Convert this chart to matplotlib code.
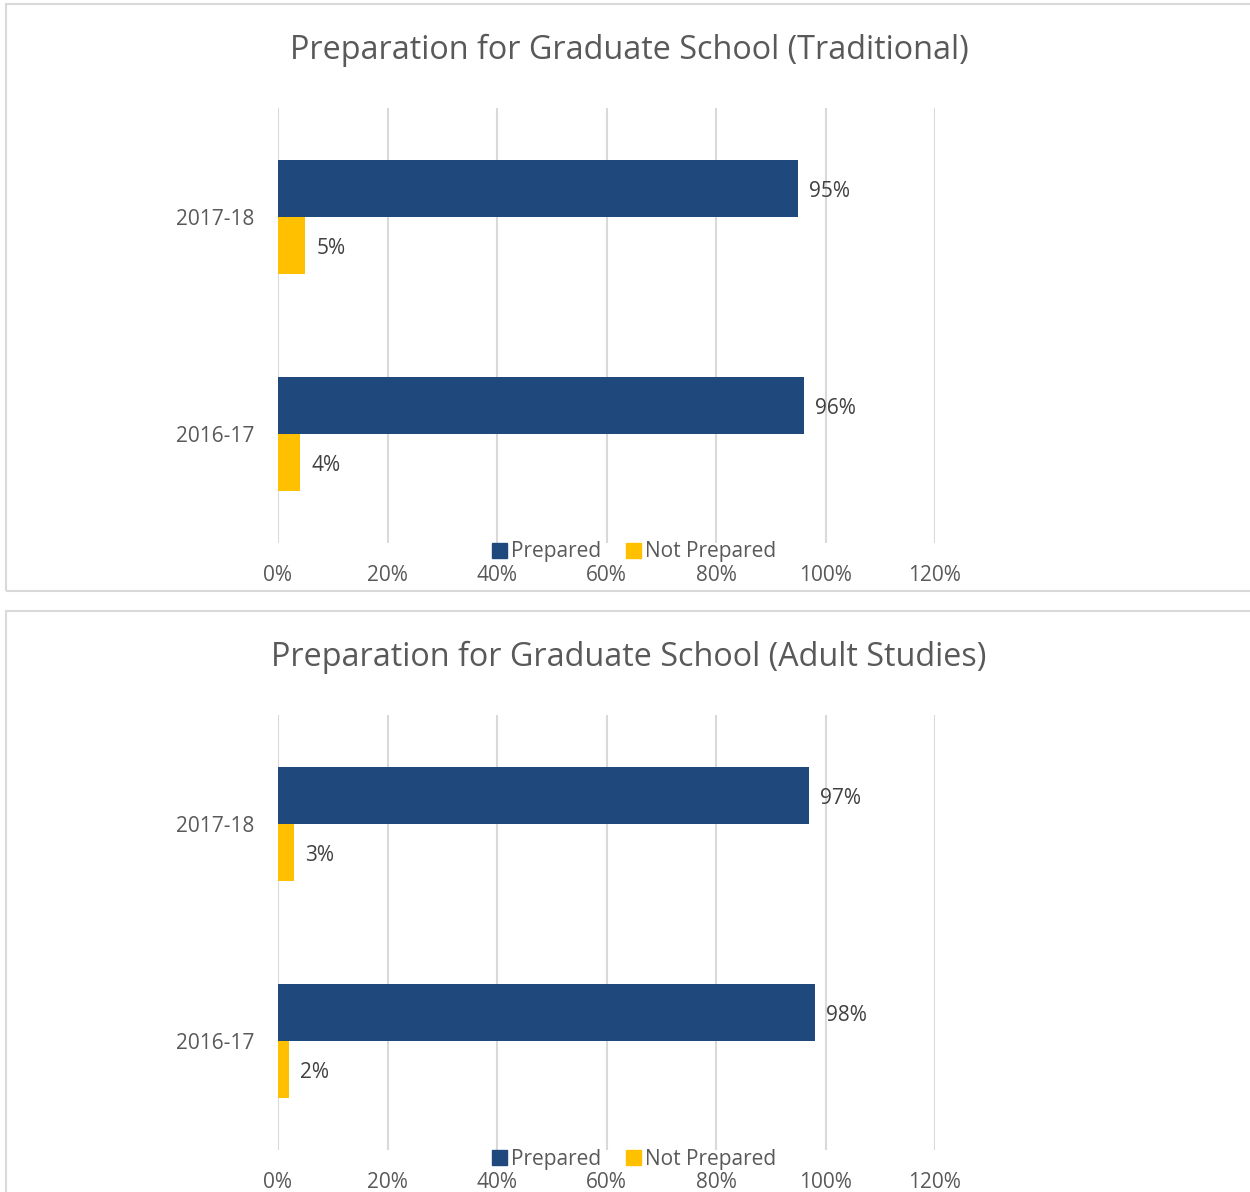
"""Horizontal grouped bars: preparation for graduate school, two programs."""

import matplotlib

matplotlib.use("Agg")

import matplotlib.pyplot as plt  # noqa: E402
from matplotlib.patches import Patch, Rectangle  # noqa: E402

plt.rcParams["font.family"] = ["Open Sans", "DejaVu Sans"]

YEARS = ["2016-17", "2017-18"]
SERIES = ["Prepared", "Not Prepared"]

TRAD_PREPARED = [0.96, 0.95]
TRAD_NOT_PREPARED = [0.04, 0.05]
ADULT_PREPARED = [0.98, 0.97]
ADULT_NOT_PREPARED = [0.02, 0.03]

TITLES = [
    "Preparation for Graduate School (Traditional)",
    "Preparation for Graduate School (Adult Studies)",
]

NAVY = "#1F497D"
GOLD = "#FFC000"
TEXT = "#595959"
LABEL = "#404040"
GRID = "#D9D9D9"

W, H = 1250, 1192


def fx(px):
    return px / W


def fy(py):
    return 1 - py / H


def panel(fig, top_px, prepared, not_prepared, title):
    """Draw one chart panel; top_px is the top edge of its frame."""
    ax_top = top_px + 104
    ax_bot = top_px + 539
    ax = fig.add_axes([fx(278), fy(ax_bot), fx(935) - fx(278), fy(ax_top) - fy(ax_bot)])

    h = 0.262
    ys = list(range(len(YEARS)))
    ax.barh([y + h / 2 for y in ys], prepared, height=h, color=NAVY, label=SERIES[0])
    ax.barh([y - h / 2 for y in ys], not_prepared, height=h, color=GOLD, label=SERIES[1])

    for y, v in zip(ys, prepared):
        ax.annotate(f"{v:.0%}", (v, y + h / 2), xytext=(8, -2), textcoords="offset points",
                    va="center", ha="left", fontsize=15, color=LABEL)
    for y, v in zip(ys, not_prepared):
        ax.annotate(f"{v:.0%}", (v, y - h / 2), xytext=(8, -2), textcoords="offset points",
                    va="center", ha="left", fontsize=15, color=LABEL)

    ax.set_xlim(0, 1.2)
    ax.set_ylim(-0.5, 1.5)
    ax.set_xticks([0, 0.2, 0.4, 0.6, 0.8, 1.0, 1.2])
    ax.set_xticklabels([f"{t}%" for t in range(0, 121, 20)])
    ax.set_yticks(ys)
    ax.set_yticklabels(YEARS)
    ax.tick_params(axis="x", length=0, pad=16, labelsize=15, colors=TEXT)
    ax.tick_params(axis="y", length=0, pad=17, labelsize=15, colors=TEXT)
    for s in ax.spines.values():
        s.set_visible(False)
    ax.grid(axis="x", color=GRID, linewidth=1.5)
    ax.set_axisbelow(True)

    fig.text(fx(629), fy(top_px + 46), title, ha="center", va="center",
             fontsize=23.3, color=TEXT)

    handles = [Patch(color=NAVY), Patch(color=GOLD)]
    fig.legend(handles, SERIES, loc="center", bbox_to_anchor=(fx(634), fy(top_px + 548)),
               ncol=2, frameon=False, fontsize=15, labelcolor=TEXT,
               handlelength=0.7, handleheight=0.7, handletextpad=0.2,
               columnspacing=1.2, borderpad=0)

    # light frame around the panel
    fig.patches.append(Rectangle((fx(6), fy(top_px + 587)), fx(1300) - fx(6),
                                 fy(top_px) - fy(top_px + 587), transform=fig.transFigure,
                                 fill=False, edgecolor=GRID, linewidth=1.5))


fig = plt.figure(figsize=(W / 100, H / 100), dpi=100)
panel(fig, 4, TRAD_PREPARED, TRAD_NOT_PREPARED, TITLES[0])
panel(fig, 611, ADULT_PREPARED, ADULT_NOT_PREPARED, TITLES[1])
fig.savefig("out.png", dpi=100, facecolor="white")
